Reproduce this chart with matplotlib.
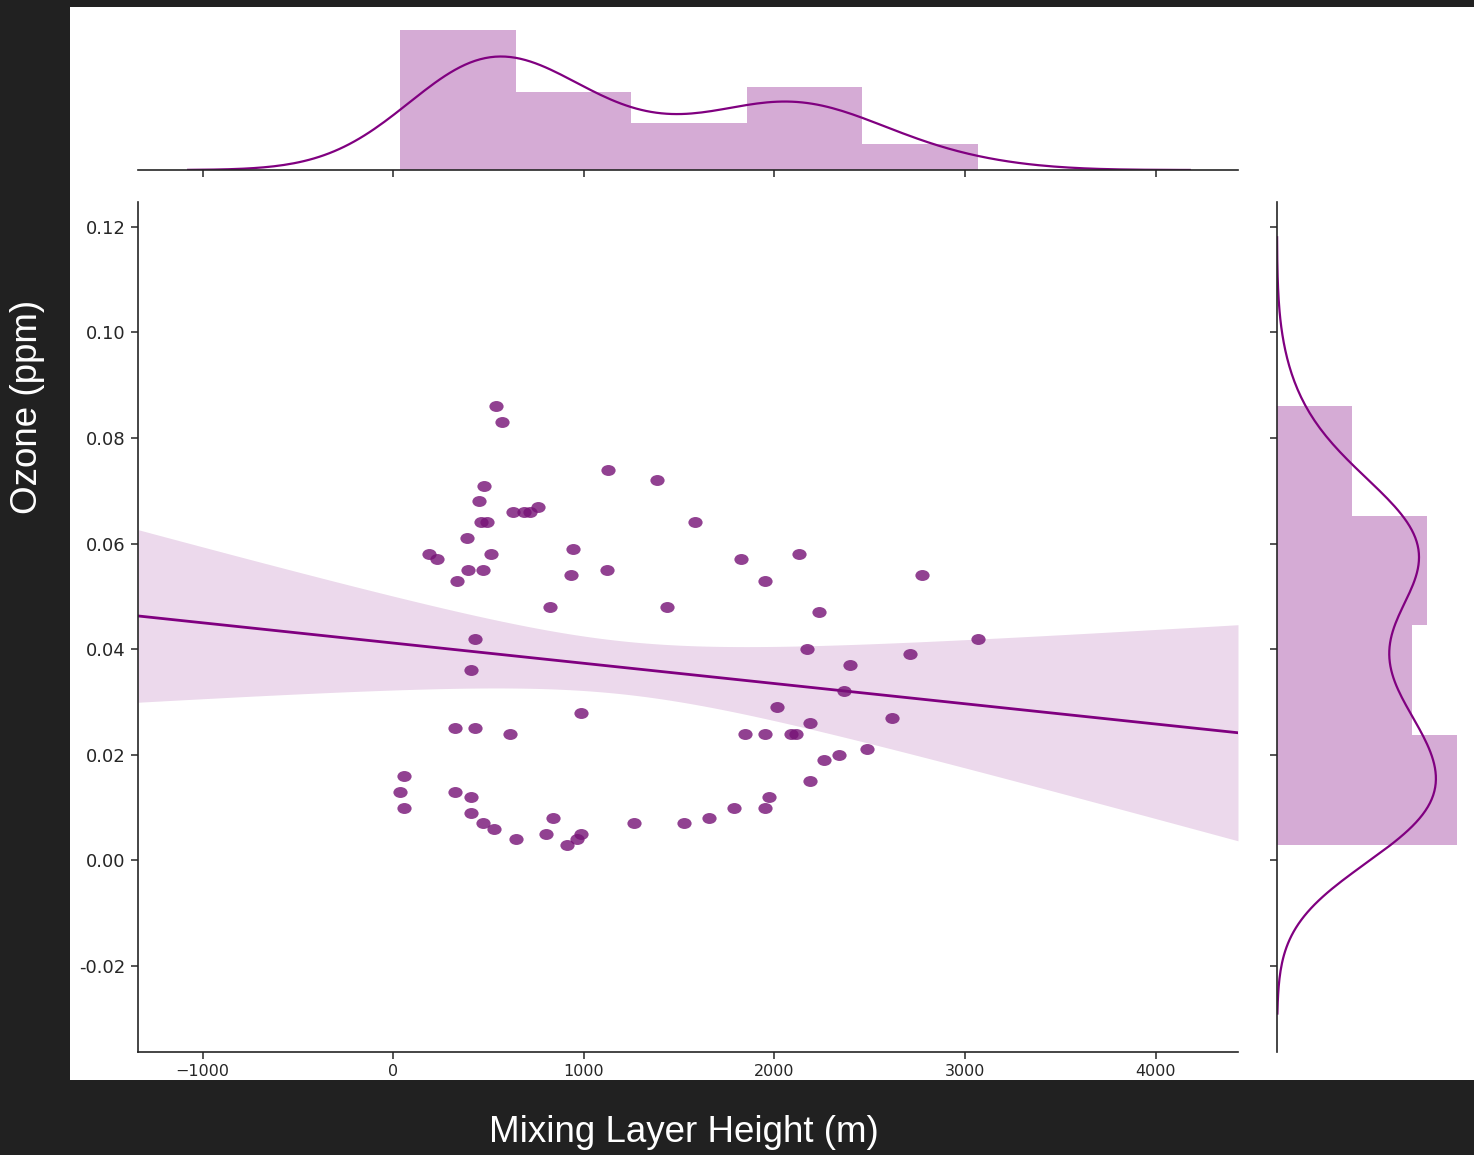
import numpy as np
import matplotlib
matplotlib.use("Agg")
import matplotlib.pyplot as plt
from matplotlib.patches import Rectangle
from matplotlib.path import Path
from matplotlib.transforms import Affine2D

# Daily observations: mixing layer height (m) and ozone concentration (ppm)
mixing_height = [
    541, 572, 1129, 1386, 478, 451, 1585, 462, 493, 630,
    688, 719, 761, 388, 189, 231, 514, 394, 472, 336,
    945, 934, 1123, 824, 1438, 1827, 2131, 1948, 2772, 2236,
    3066, 2173, 2709, 2394, 2367, 2016, 2184, 1843, 1948, 2089,
    2115, 2619, 2488, 2341, 2262, 2184, 1969, 1948, 1790, 1659,
    1528, 430, 409, 987, 325, 430, 614, 58, 37, 58,
    325, 409, 409, 472, 530, 646, 840, 803, 987, 966,
    913, 1265,
]
ozone = [
    0.086, 0.083, 0.074, 0.072, 0.071, 0.068, 0.064, 0.064, 0.064, 0.066,
    0.066, 0.066, 0.067, 0.061, 0.058, 0.057, 0.058, 0.055, 0.055, 0.053,
    0.059, 0.054, 0.055, 0.048, 0.048, 0.057, 0.058, 0.053, 0.054, 0.047,
    0.042, 0.040, 0.039, 0.037, 0.032, 0.029, 0.026, 0.024, 0.024, 0.024,
    0.024, 0.027, 0.021, 0.020, 0.019, 0.015, 0.012, 0.010, 0.010, 0.008,
    0.007, 0.042, 0.036, 0.028, 0.025, 0.025, 0.024, 0.016, 0.013, 0.010,
    0.013, 0.012, 0.009, 0.007, 0.006, 0.004, 0.008, 0.005, 0.005, 0.004,
    0.003, 0.007,
]

x_ticks = [-1000, 0, 1000, 2000, 3000, 4000]
y_ticks = [-0.02, 0.00, 0.02, 0.04, 0.06, 0.08, 0.10, 0.12]
x_label = "Mixing Layer Height (m)"
y_label = "Ozone (ppm)"

x = np.asarray(mixing_height, dtype=float)
y = np.asarray(ozone, dtype=float)

color = "#800080"
dot_color = "#761276"
ink = "#262626"
W, H = 1474, 1155
XLIM = (-1339, 4432)
YLIM = (-0.0363, 0.1247)

fig = plt.figure(figsize=(W / 100, H / 100), dpi=100, facecolor="#212121")


def box(left, top, right, bottom):
    return [left / W, 1 - bottom / H, (right - left) / W, (bottom - top) / H]


# white panel that holds the plots
fig.add_artist(Rectangle((70 / W, 1 - 1080 / H), (W - 70) / W, (1080 - 7) / H,
                         transform=fig.transFigure, facecolor="white",
                         edgecolor="none", zorder=-1))


def gaussian_kde(data, n_grid=200, cut=3):
    """Gaussian KDE with a Scott-style (robust) bandwidth."""
    n = len(data)
    q75, q25 = np.percentile(data, [75, 25])
    spread = min(data.std(ddof=1), (q75 - q25) / 1.349)
    bw = 1.059 * spread * n ** (-1 / 5)
    grid = np.linspace(data.min() - cut * bw, data.max() + cut * bw, n_grid)
    dens = np.exp(-0.5 * ((grid[:, None] - data[None, :]) / bw) ** 2).sum(1)
    dens /= n * bw * np.sqrt(2 * np.pi)
    return grid, dens


def style_spines(a, visible):
    for side, sp in a.spines.items():
        sp.set_visible(side in visible)
        sp.set_color(ink)
        sp.set_linewidth(1.2)


# ---- joint axes ----
ax = fig.add_axes(box(138, 202, 1238, 1052))
ax.set_facecolor("none")
style_spines(ax, ("left", "bottom"))

ellipse = Path.unit_circle().transformed(Affine2D().scale(1.3, 1.0))
ax.scatter(x, y, s=105, marker=ellipse, color=dot_color, alpha=0.8,
           linewidths=0, zorder=3)

# least-squares fit with confidence band
n = len(x)
slope, intercept = np.polyfit(x, y, 1)
xs = np.linspace(XLIM[0], XLIM[1], 200)
yhat = intercept + slope * xs
resid = y - (intercept + slope * x)
s_err = np.sqrt((resid ** 2).sum() / (n - 2))
sxx = ((x - x.mean()) ** 2).sum()
half = 1.8 * s_err * np.sqrt(1 / n + (xs - x.mean()) ** 2 / sxx)
ax.fill_between(xs, yhat - half, yhat + half, color=color, alpha=0.15,
                linewidth=0, zorder=1)
ax.plot(xs, yhat, color=color, lw=2.0, zorder=2)

ax.set_xlim(*XLIM)
ax.set_ylim(*YLIM)
ax.set_xticks(x_ticks)
ax.set_yticks(y_ticks)
ax.set_yticklabels([f"{v:.2f}" for v in y_ticks])
ax.tick_params(axis="both", colors=ink, length=5, width=1.1, direction="out")
ax.tick_params(axis="x", labelsize=11.5, pad=4)
ax.tick_params(axis="y", labelsize=13, pad=4)

# ---- top marginal ----
axt = fig.add_axes(box(138, 23, 1238, 170))
axt.set_facecolor("none")
style_spines(axt, ("bottom",))
axt.hist(x, bins=5, density=True, color=color, alpha=0.33, linewidth=0)
gx, dx = gaussian_kde(x)
axt.plot(gx, dx, color=color, lw=1.6)
axt.set_xlim(*XLIM)
axt.set_ylim(bottom=0)
axt.set_xticks(x_ticks)
axt.tick_params(axis="x", colors=ink, length=5, width=1.1, labelbottom=False)
axt.set_yticks([])

# ---- right marginal ----
axr = fig.add_axes(box(1277, 202, 1466, 1052))
axr.set_facecolor("none")
style_spines(axr, ("left",))
axr.hist(y, bins=4, density=True, color=color, alpha=0.33, linewidth=0,
         orientation="horizontal")
gy, dy = gaussian_kde(y)
axr.plot(dy, gy, color=color, lw=1.6)
axr.set_ylim(*YLIM)
axr.set_xlim(left=0)
axr.set_yticks(y_ticks)
axr.tick_params(axis="y", colors=ink, length=5, width=1.1, labelleft=False)
axr.set_xticks([])

# axis titles on the dark surround
fig.text(684 / W, 1 - 1133 / H, x_label, color="white", fontsize=26.5,
         family="Liberation Sans", ha="center", va="center")
fig.text(28 / W, 1 - 407 / H, y_label, color="white", fontsize=26.5,
         family="Liberation Sans", rotation=90, ha="center", va="center")

fig.savefig("out.png", dpi=100, facecolor=fig.get_facecolor())
